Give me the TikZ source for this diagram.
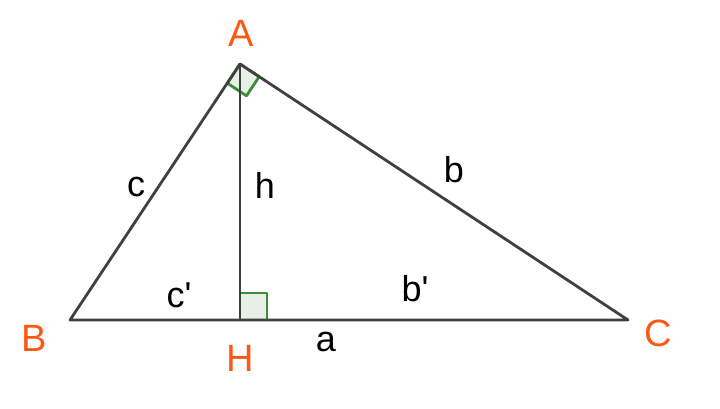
\documentclass[tikz,border=0pt]{standalone}
\usepackage{fontspec}
\setmainfont{Liberation Sans}
\usetikzlibrary{calc}
\definecolor{vertexorange}{RGB}{255,88,20}
\definecolor{sidegray}{RGB}{64,64,64}
\definecolor{markgreen}{RGB}{60,140,60}
\definecolor{markfill}{RGB}{230,240,228}
\tikzset{
  side/.style   = {draw=sidegray, line width=2.8pt, line join=round},
  rightmark/.style = {draw=markgreen, fill=markfill, line width=2.8pt, line join=round},
  vertex/.style = {text=vertexorange, font=\fontsize{38}{40}\selectfont, inner sep=0pt},
  length/.style = {text=black, font=\fontsize{36}{38}\selectfont, inner sep=0pt}
}
\newcommand{\strich}{\textquotesingle}

\begin{document}
\begin{tikzpicture}[x=1pt, y=-1pt]
  \useasboundingbox (0,0) rectangle (720,409);
  \coordinate (A) at (240,64);
  \coordinate (B) at (70,320);
  \coordinate (C) at (628,320);
  \coordinate (H) at (240,320);
  % right angles
  \coordinate (ab) at ($(A)!23pt!(B)$);
  \coordinate (ac) at ($(A)!23pt!(C)$);
  \filldraw[rightmark] (A) -- (ab) -- ($(ab)+(ac)-(A)$) -- (ac) -- cycle;
  \filldraw[rightmark] (H) rectangle (267,293);
  % triangle and height
  \draw[side] (A) -- (B) -- (C) -- cycle;
  \draw[side] (A) -- (H);
  % vertices
  \node[vertex] (labelA) at (241,33) {A};
  \node[vertex] (labelB) at (34,338) {B};
  \node[vertex] (labelC) at (658,333) {C};
  \node[vertex] (labelH) at (240,358) {H};
  % lengths
  \node[length] (labelc) at (136,187) {c};
  \node[length] (labelh) at (265,185) {h};
  \node[length] (labelb) at (454,170) {b};
  \node[length] (labelcc) at (179,295) {c\strich};
  \node[length] (labelbb) at (415,289) {b\strich};
  \node[length] (labela) at (326,342) {a};
\end{tikzpicture}
\end{document}
